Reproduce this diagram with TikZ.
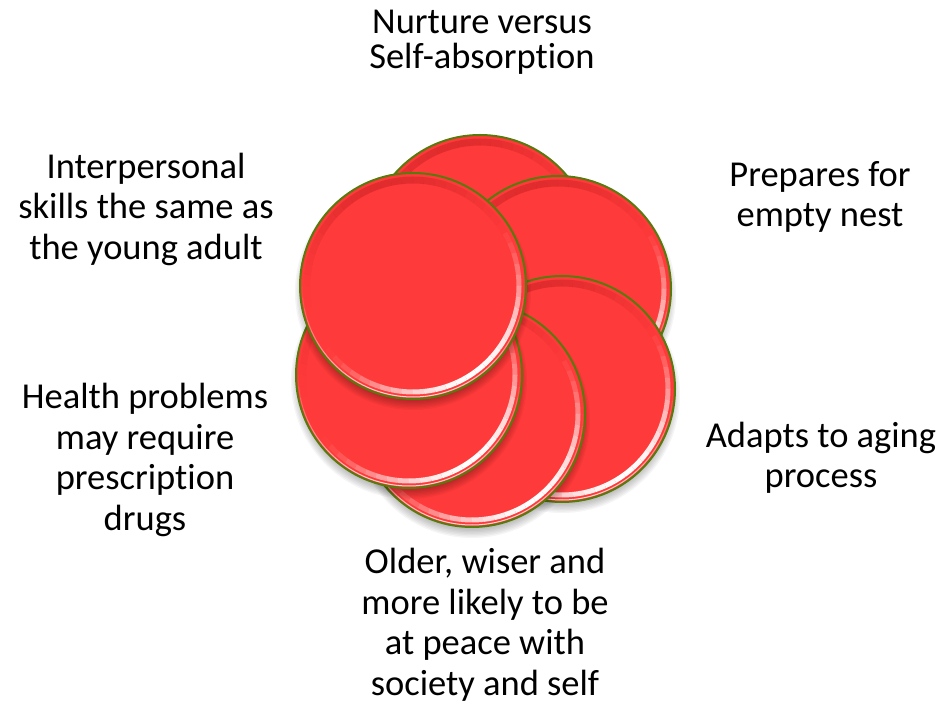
\documentclass[tikz,border=0pt]{standalone}
\usepackage{fontspec}
\setmainfont{Carlito}[Ligatures=NoCommon]

\definecolor{platered}{RGB}{255,58,58}
\definecolor{plateedge}{RGB}{88,122,12}
\definecolor{platedark}{RGB}{170,20,25}

\begin{document}
\begin{tikzpicture}[x=1pt, y=1pt,
    plate/.style={circle, draw=plateedge, line width=2, fill=platered, minimum size=226, inner sep=0},
    stage/.style={align=center, inner sep=0, font=\fontsize{36.5}{40.5}\selectfont},
    rim/.style={draw=platedark, line width=7},
    sheen/.style={draw=white, line width=5},
    gleam/.style={draw=white, line width=1}
]
\useasboundingbox (0,0) rectangle (944,704);

% Plates, back to front
\foreach \name/\x/\y in {top/480/456, topright/558/415, botright/562/315,
                         bottom/472/290, botleft/409/329, topleft/413/418} {
    % soft shadow under the plate
    \foreach \i in {0,...,7}
        \fill[black, opacity=0.04] (\x,\y-6) circle (118-1.4*\i);
    \node[plate] (\name) at (\x,\y) {};
    % bevel: darker at the top, shine at the bottom right
    \foreach \a in {0,6,...,354} {
        \pgfmathsetmacro\dark{0.35*max(0,cos(\a+3-105))^2}
        \pgfmathsetmacro\lit{max(0,cos(\a+3+55))^1.5}
        \pgfmathsetmacro\thin{0.8*max(0,cos(\a+3+90))}
        \draw[rim, opacity=\dark] ([shift={(\a:106)}]\name.center) arc[start angle=\a, delta angle=6, radius=106];
        \draw[sheen, opacity=\lit] ([shift={(\a:106)}]\name.center) arc[start angle=\a, delta angle=6, radius=106];
        \draw[gleam, opacity=\thin] ([shift={(\a:111)}]\name.center) arc[start angle=\a, delta angle=6, radius=111];
    }
}

% Stages
\node[stage, font=\fontsize{36.5}{35}\selectfont] (nurture) at (482,662) {Nurture versus\\Self-absorption};
\node[stage] (prepares) at (820,507) {Prepares for\\empty nest};
\node[stage] (adapts) at (821,246) {Adapts to aging\\process};
\node[stage] (older) at (485,79) {Older, wiser and\\more likely to be\\at peace with\\society and self};
\node[stage] (health) at (145,244) {Health problems\\may require\\prescription\\drugs};
\node[stage] (interpersonal) at (146,495) {Interpersonal\\skills the same as\\the young adult};

\end{tikzpicture}
\end{document}
